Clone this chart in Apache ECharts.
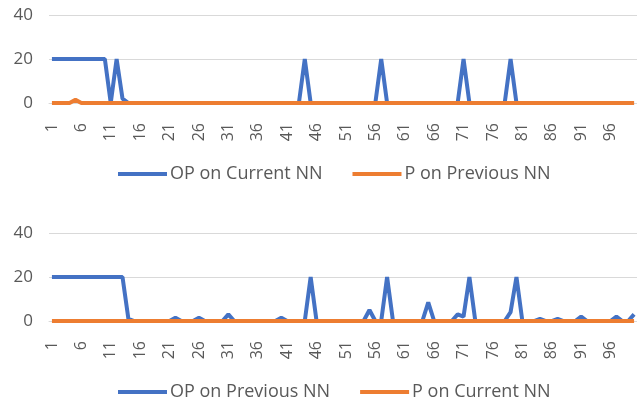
<!DOCTYPE html>
<html><head><meta charset="utf-8">
<script src="https://cdn.jsdelivr.net/npm/echarts@6/dist/echarts.min.js"></script>
<style>html,body{margin:0;padding:0;background:#fff}#c{width:637px;height:402px}</style>
</head><body><div id="c"></div>
<script>
var categories = [];
for (var i = 1; i <= 100; i++) categories.push(String(i));

var topOpCurrent = [20,20,20,20,20,20,20,20,20,20, 0,20,2,0,0,0,0,0,0,0, 0,0,0,0,0,0,0,0,0,0, 0,0,0,0,0,0,0,0,0,0, 0,0,0,20,0,0,0,0,0,0, 0,0,0,0,0,0,20,0,0,0, 0,0,0,0,0,0,0,0,0,0, 20,0,0,0,0,0,0,0,20,0, 0,0,0,0,0,0,0,0,0,0, 0,0,0,0,0,0,0,0,0,0];
var topPPrevious = [0,0,0,0,1.5,0,0,0,0,0, 0,0,0,0,0,0,0,0,0,0, 0,0,0,0,0,0,0,0,0,0, 0,0,0,0,0,0,0,0,0,0, 0,0,0,0,0,0,0,0,0,0, 0,0,0,0,0,0,0,0,0,0, 0,0,0,0,0,0,0,0,0,0, 0,0,0,0,0,0,0,0,0,0, 0,0,0,0,0,0,0,0,0,0, 0,0,0,0,0,0,0,0,0,0];
var botOpPrevious = [20,20,20,20,20,20,20,20,20,20, 20,20,20,1,0,0,0,0,0,0, 0,1.5,0,0,0,1.5,0,0,0,0, 3,0,0,0,0,0,0,0,0,1.5, 0,0,0,0,20,0,0,0,0,0, 0,0,0,0,5,0,0,20,0,0, 0,0,0,0,8.5,0,0,0,0,3, 2,20,0,0,0,0,0,0,4,20, 0,0,0,1,0,0,1,0,0,0, 2,0,0,0,0,0,2,0,0,3];
var botPCurrent = [0,0,0,0,0,0,0,0,0,0, 0,0,0,0,0,0,0,0,0,0, 0,0,0,0,0,0,0,0,0,0, 0,0,0,0,0,0,0,0,0,0, 0,0,0,0,0,0,0,0,0,0, 0,0,0,0,0,0,0,0,0,0, 0,0,0,0,0,0,0,0,0,0, 0,0,0,0,0,0,0,0,0,0, 0,0,0,0,0,0,0,0,0,0, 0,0,0,0,0,0,0,0,0,0];
var yTicks = {min: 0, max: 40, interval: 20};

var BLUE = '#4472C4', ORANGE = '#ED7D31', TXT = '#595959', GRID = '#D9D9D9';
var FONT = 'Open Sans';
function xAxis(idx) {
  return {
    type: 'category', gridIndex: idx, data: categories, boundaryGap: true,
    axisTick: {show: false},
    axisLine: {show: true, lineStyle: {color: GRID}},
    axisLabel: {interval: 4, rotate: 90, color: TXT, fontSize: 16, fontFamily: FONT, margin: 20}
  };
}
function yAxis(idx) {
  return {
    type: 'value', gridIndex: idx, min: yTicks.min, max: yTicks.max, interval: yTicks.interval,
    axisLine: {show: false}, axisTick: {show: false},
    splitLine: {lineStyle: {color: GRID, width: 1}},
    axisLabel: {color: TXT, fontSize: 17, fontFamily: FONT, margin: 16}
  };
}
function line(name, data, color, idx) {
  return {name: name, type: 'line', xAxisIndex: idx, yAxisIndex: idx, data: data,
    symbol: 'none', lineStyle: {color: color, width: 4}, itemStyle: {color: color}, animation: false};
}
var chart = echarts.init(document.getElementById('c'), null, {renderer: 'canvas'});
chart.setOption({
  backgroundColor: '#fff',
  animation: false,
  grid: [
    {left: 49, width: 590, top: 15, height: 88, containLabel: false},
    {left: 49, width: 590, top: 233, height: 88, containLabel: false}
  ],
  xAxis: [xAxis(0), xAxis(1)],
  yAxis: [yAxis(0), yAxis(1)],
  legend: [
    {data: ['OP on Current NN', 'P on Previous NN'], top: 160, left: 113, icon: 'rect', itemWidth: 49, itemHeight: 4, itemGap: 30,
     textStyle: {color: TXT, fontSize: 18, fontFamily: FONT, padding: [0,0,0,-2]}},
    {data: ['OP on Previous NN', 'P on Current NN'], top: 378, left: 113, icon: 'rect', itemWidth: 49, itemHeight: 4, itemGap: 30,
     textStyle: {color: TXT, fontSize: 18, fontFamily: FONT, padding: [0,0,0,-2]}}
  ],
  series: [
    line('OP on Current NN', topOpCurrent, BLUE, 0),
    line('P on Previous NN', topPPrevious, ORANGE, 0),
    line('OP on Previous NN', botOpPrevious, BLUE, 1),
    line('P on Current NN', botPCurrent, ORANGE, 1)
  ]
});
</script></body></html>
